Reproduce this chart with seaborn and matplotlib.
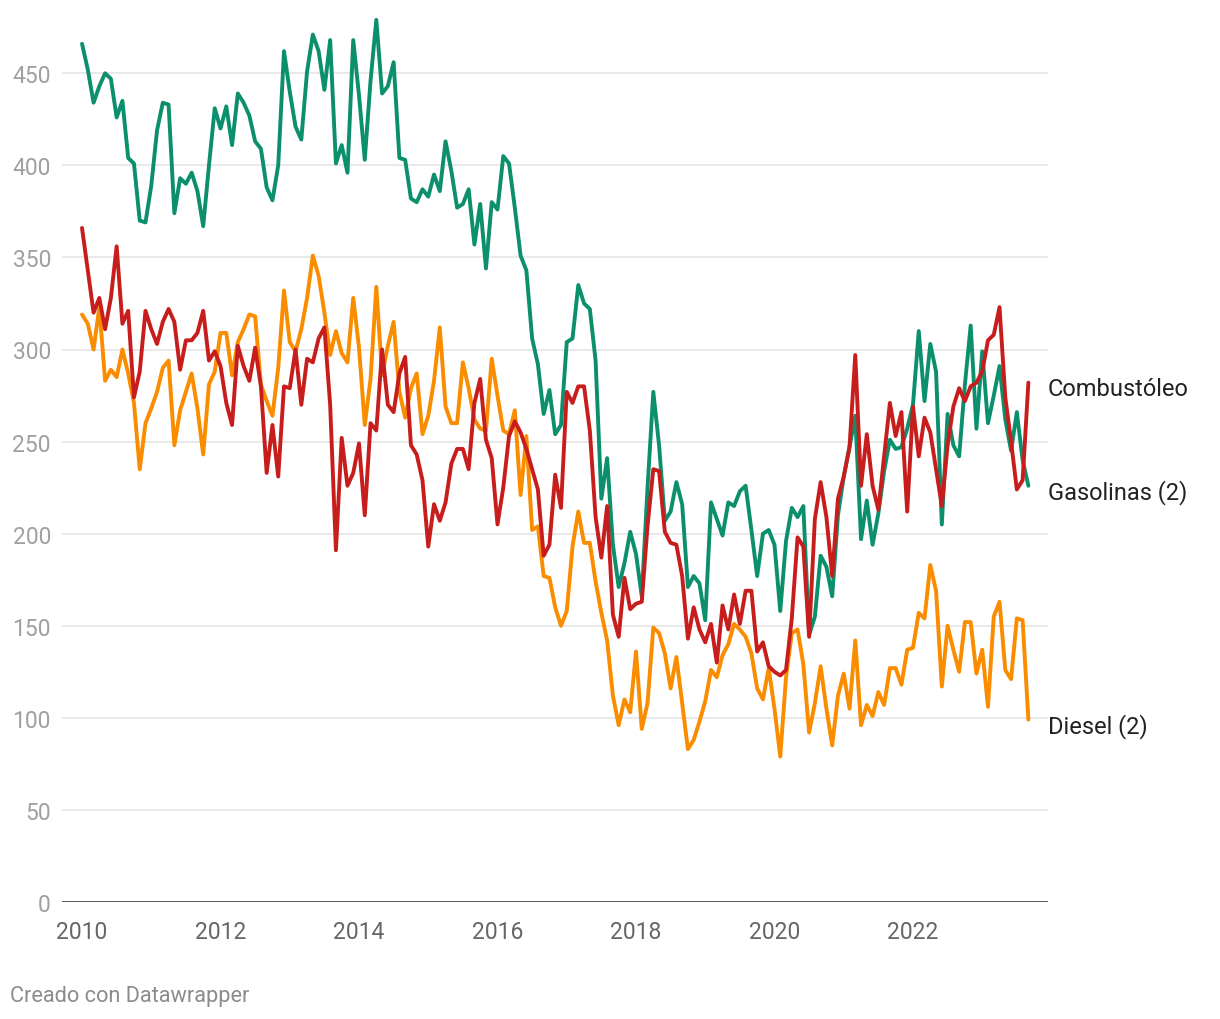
import numpy as np
import pandas as pd
import matplotlib.pyplot as plt
import matplotlib.transforms as mtransforms
import seaborn as sns

# monthly values, Jan 2010 - Sep 2023
gasolinas = [466, 452, 434, 443, 450, 447, 426, 435, 404, 401, 370, 369,
             389, 419, 434, 433, 374, 393, 390, 396, 386, 367, 400, 431,
             420, 432, 411, 439, 434, 427, 413, 409, 388, 381, 400, 462,
             440, 421, 414, 451, 471, 462, 441, 468, 401, 411, 396, 468,
             438, 403, 446, 479, 439, 443, 456, 404, 403, 382, 380, 387,
             383, 395, 386, 413, 397, 377, 379, 387, 357, 379, 344, 380,
             376, 405, 401, 377, 351, 343, 306, 292, 265, 278, 254, 259,
             304, 306, 335, 325, 322, 294, 219, 241, 194, 171, 184, 201,
             189, 166, 225, 277, 248, 207, 212, 228, 216, 171, 177, 173,
             153, 217, 208, 199, 217, 215, 223, 226, 202, 177, 200, 202,
             194, 158, 196, 214, 209, 215, 145, 155, 188, 182, 166, 210,
             231, 247, 264, 197, 218, 194, 211, 234, 251, 246, 247, 257,
             270, 310, 272, 303, 288, 205, 265, 248, 242, 281, 313, 257,
             299, 260, 275, 291, 262, 245, 266, 240, 226]

combustoleo = [366, 343, 320, 328, 311, 328, 356, 314, 321, 274, 288, 321,
               311, 303, 315, 322, 315, 289, 305, 305, 309, 321, 294, 299,
               291, 271, 259, 302, 291, 283, 301, 280, 233, 259, 231, 280,
               279, 300, 270, 295, 293, 306, 312, 270, 191, 252, 226, 233,
               249, 210, 260, 256, 300, 270, 266, 287, 296, 248, 243, 229,
               193, 216, 207, 217, 238, 246, 246, 235, 271, 284, 251, 241,
               205, 225, 253, 261, 255, 246, 235, 224, 188, 194, 232, 214,
               277, 271, 280, 280, 256, 209, 187, 215, 156, 144, 176, 159,
               162, 163, 204, 235, 234, 201, 195, 194, 177, 143, 160, 148,
               141, 151, 130, 161, 148, 167, 151, 169, 169, 136, 141, 128,
               125, 123, 126, 154, 198, 193, 144, 208, 228, 209, 177, 219,
               231, 247, 297, 226, 254, 226, 213, 242, 271, 253, 266, 212,
               269, 242, 263, 255, 235, 215, 248, 269, 279, 272, 280, 282,
               288, 305, 308, 323, 274, 250, 224, 229, 282]

diesel = [319, 314, 300, 323, 283, 289, 285, 300, 287, 271, 235, 260,
          268, 277, 290, 294, 248, 267, 277, 287, 268, 243, 281, 288,
          309, 309, 286, 304, 311, 319, 318, 281, 272, 264, 290, 332,
          304, 299, 311, 328, 351, 340, 320, 297, 310, 298, 293, 328,
          301, 259, 284, 334, 286, 302, 315, 277, 263, 279, 287, 254,
          264, 283, 312, 269, 260, 260, 293, 279, 262, 257, 256, 295,
          275, 256, 254, 267, 221, 253, 202, 204, 177, 176, 160, 150,
          158, 193, 212, 195, 195, 174, 157, 142, 112, 96, 110, 103,
          136, 94, 108, 149, 146, 135, 116, 133, 108, 83, 88, 98,
          109, 126, 122, 134, 140, 151, 148, 144, 135, 116, 110, 127,
          105, 79, 122, 146, 148, 129, 92, 108, 128, 105, 85, 112,
          124, 105, 142, 96, 107, 101, 114, 107, 127, 127, 118, 137,
          138, 157, 154, 183, 169, 117, 150, 137, 125, 152, 152, 124,
          137, 106, 155, 163, 126, 121, 154, 153, 99]

series_names = ["Combustóleo", "Gasolinas (2)", "Diesel (2)"]
colors = {"Gasolinas (2)": "#0b8f6d", "Combustóleo": "#c71e1d", "Diesel (2)": "#fa8c00"}

year_ticks = [2010, 2012, 2014, 2016, 2018, 2020, 2022]
y_ticks = [0, 50, 100, 150, 200, 250, 300, 350, 400, 450]

n = len(gasolinas)
fecha = 2010 + np.arange(n) / 12

df = pd.concat([
    pd.DataFrame({"fecha": fecha, "valor": gasolinas, "serie": "Gasolinas (2)"}),
    pd.DataFrame({"fecha": fecha, "valor": combustoleo, "serie": "Combustóleo"}),
    pd.DataFrame({"fecha": fecha, "valor": diesel, "serie": "Diesel (2)"}),
])

sns.set_theme(style="white")
plt.rcParams["font.family"] = ["Roboto", "DejaVu Sans"]

fig = plt.figure(figsize=(12.2, 10.2), dpi=100)
ax = fig.add_axes([62 / 1220, 1 - 903 / 1020, (1048 - 62) / 1220, (903 - 19) / 1020])

for y in y_ticks[1:]:
    ax.axhline(y, color="#e3e3e3", lw=1.1, zorder=0)

sns.lineplot(data=df, x="fecha", y="valor", hue="serie", palette=colors,
             hue_order=["Gasolinas (2)", "Diesel (2)", "Combustóleo"],
             linewidth=2.8, legend=False, ax=ax, clip_on=False)

ax.axhline(0, color="#222222", lw=1.8, zorder=3)

ax.set_xlim(2010 - 3.47 / 12, 2010 + 167.4 / 12)
ax.set_ylim(0, 480)
ax.set_xticks(year_ticks)
ax.set_xticklabels([str(y) for y in year_ticks], fontsize=16.5, color="#666666")
ax.set_yticks(y_ticks)
ax.set_yticklabels([str(y) for y in y_ticks], fontsize=16.5, color="#a0a0a0")
ax.tick_params(axis="y", length=0, pad=8)
ax.tick_params(axis="x", length=0, pad=13)
ax.set_xlabel("")
ax.set_ylabel("")
for s in ax.spines.values():
    s.set_visible(False)

# line labels at the right end
trans = mtransforms.blended_transform_factory(ax.transAxes, ax.transData)
last = {"Combustóleo": combustoleo[-1], "Gasolinas (2)": gasolinas[-1], "Diesel (2)": diesel[-1]}
for name in series_names:
    ax.text(1.0, last[name] - 3, name, transform=trans, ha="left", va="center",
            fontsize=17, color="#222222")

fig.text(10 / 1220, 1 - 997 / 1020, "Creado con Datawrapper", ha="left", va="center",
         fontsize=15.7, color="#8c8c8c")

plt.savefig("out.png", dpi=100)
